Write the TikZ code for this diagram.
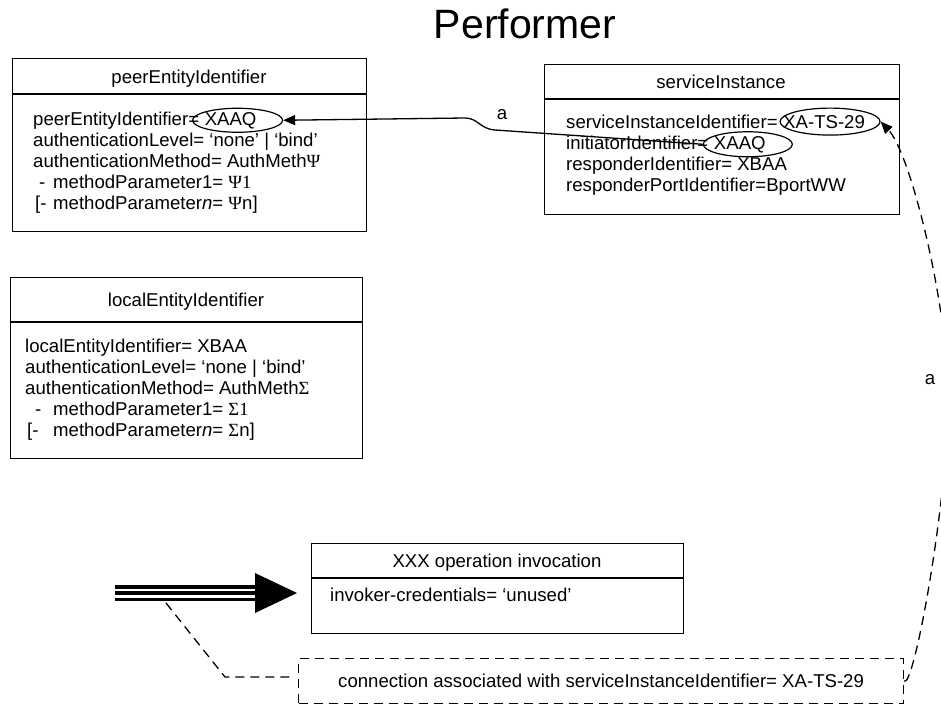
\documentclass[tikz,border=0pt]{standalone}
\usepackage{fontspec}
\setmainfont{Liberation Sans}
\newfontfamily\symf{Liberation Serif}
\usetikzlibrary{shapes.geometric,arrows.meta}
\begin{document}
\begin{tikzpicture}[x=1pt,y=-1pt,
  txt/.style={inner sep=0pt, font=\fontsize{18.6}{21}\selectfont},
  boxx/.style={draw, line width=1.3pt, inner sep=0pt},
  ovl/.style={draw, ellipse, line width=1.2pt, inner sep=0pt},
  dsh/.style={line width=1.3pt, dash pattern=on 9pt off 6pt},
  tipst/.style={{Triangle[length=12pt,width=10pt]}-},
  hline/.style={line width=1.3pt}]
\useasboundingbox (0,0) rectangle (941,704);

% title
\node[inner sep=0pt, font=\fontsize{41}{45}\selectfont, anchor=base] (title) at (525,38) {Performer};

% peerEntityIdentifier box
\node[boxx, minimum width=354pt, minimum height=173pt, anchor=north west] (peer) at (12,58) {};
\draw[hline] (peer.west |- 0,94) -- (peer.east |- 0,94);
\node[txt, anchor=base] (peerh) at (189,83) {peerEntityIdentifier};
\node[txt, anchor=base west] (p1) at (33,125) {peerEntityIdentifier=};
\node[txt, anchor=base west] (p1v) at ([xshift=5.2pt]p1.base east) {XAAQ};
\node[txt, anchor=base west] (p2) at (33,146) {authenticationLevel= ‘none’ | ‘bind’};
\node[txt, anchor=base west] (p3) at (33,167) {authenticationMethod= AuthMeth{\symf Ψ}};
\node[txt, anchor=base west] (p4d) at (39,188) {-};
\node[txt, anchor=base west] (p4) at (53,188) {methodParameter1= {\symf Ψ1}};
\node[txt, anchor=base west] (p5d) at (35,209) {[-};
\node[txt, anchor=base west] (p5) at (53,209) {methodParameter\textit{n}= {\symf Ψ}n]};
\node[ovl, minimum width=90pt, minimum height=24pt] (pe) at ([xshift=7pt]p1v.center) {};

% serviceInstance box
\node[boxx, minimum width=355pt, minimum height=150pt, anchor=north west] (serv) at (544,64) {};
\draw[hline] (serv.west |- 0,99) -- (serv.east |- 0,99);
\node[txt, anchor=base] (servh) at (721,88) {serviceInstance};
\node[txt, anchor=base west] (s1) at (566,128) {serviceInstanceIdentifier=};
\node[txt, anchor=base west] (s1v) at ([xshift=5.2pt]s1.base east) {XA-TS-29};
\node[txt, anchor=base west] (s2) at (566,149) {initiatorIdentifier=};
\node[txt, anchor=base west] (s2v) at ([xshift=5.2pt]s2.base east) {XAAQ};
\node[txt, anchor=base west] (s3) at (566,170) {responderIdentifier= XBAA};
\node[txt, anchor=base west] (s4) at (566,191) {responderPortIdentifier=BportWW};
\node[ovl, minimum width=100pt, minimum height=27pt] (xe) at ([xshift=6pt]s1v.center) {};
\node[ovl, minimum width=89pt, minimum height=25pt] (ie) at ([xshift=8pt]s2v.center) {};

% localEntityIdentifier box
\node[boxx, minimum width=352pt, minimum height=181pt, anchor=north west] (loc) at (10,277) {};
\draw[hline] (loc.west |- 0,322) -- (loc.east |- 0,322);
\node[txt, anchor=base] (loch) at (186,306) {localEntityIdentifier};
\node[txt, anchor=base west] (l1) at (25,352) {localEntityIdentifier= XBAA};
\node[txt, anchor=base west] (l2) at (25,373) {authenticationLevel= ‘none | ‘bind’};
\node[txt, anchor=base west] (l3) at (25,394) {authenticationMethod= AuthMeth{\symf Σ}};
\node[txt, anchor=base west] (l4d) at (35,415) {-};
\node[txt, anchor=base west] (l4) at (53,415) {methodParameter1= {\symf Σ1}};
\node[txt, anchor=base west] (l5d) at (27,436) {[-};
\node[txt, anchor=base west] (l5) at (53,436) {methodParameter\textit{n}= {\symf Σ}n]};

% XXX operation invocation box
\node[boxx, minimum width=372pt, minimum height=90pt, anchor=north west] (op) at (311,543) {};
\draw[hline] (op.west |- 0,578) -- (op.east |- 0,578);
\node[txt, anchor=base] (oph) at (497,567) {XXX operation invocation};
\node[txt, anchor=base west] (op1) at (330,601) {invoker-credentials= ‘unused’};

% connection box
\node[draw, dsh, line width=1.2pt, minimum width=605pt, minimum height=45pt, anchor=north west, inner sep=0pt] (conn) at (298,658) {};
\node[txt] (connt) at (conn.center) {connection associated with serviceInstanceIdentifier= XA-TS-29};

% triple arrow
\coordinate (ta) at (115,593);
\coordinate (tb) at (256,593);
\coordinate (tt) at (297,593);
\draw[line width=16pt] (ta) -- (tb);
\draw[line width=9pt, white] (ta) -- ([xshift=1pt]tb);
\draw[line width=4pt] (ta) -- (tb);
\fill (255,573) -- (tt) -- (255,613) -- cycle;

% dashed line from triple arrow
\coordinate (d0) at (166,603);
\coordinate (d1) at (225,677);
\coordinate (d2) at (290,677);
\draw[dsh] (d0) -- (d1) -- (d2);

% solid arrow a
\draw[tipst, line width=1.3pt] (pe.east) -- (465,118) .. controls (478,118) and (480,129) .. (495,130) -- (ie.west);
\node[txt] (la) at (502,115) {a};

% dashed arrow a (right)
\draw[dsh, -{Triangle[length=12pt,width=10pt]}] (conn.east) .. controls (912,688) and (938,560) .. (948,430) .. controls (955,330) and (912,155) .. (xe.east);
\node[txt] (lb) at (930,380) {a};
\end{tikzpicture}
\end{document}
